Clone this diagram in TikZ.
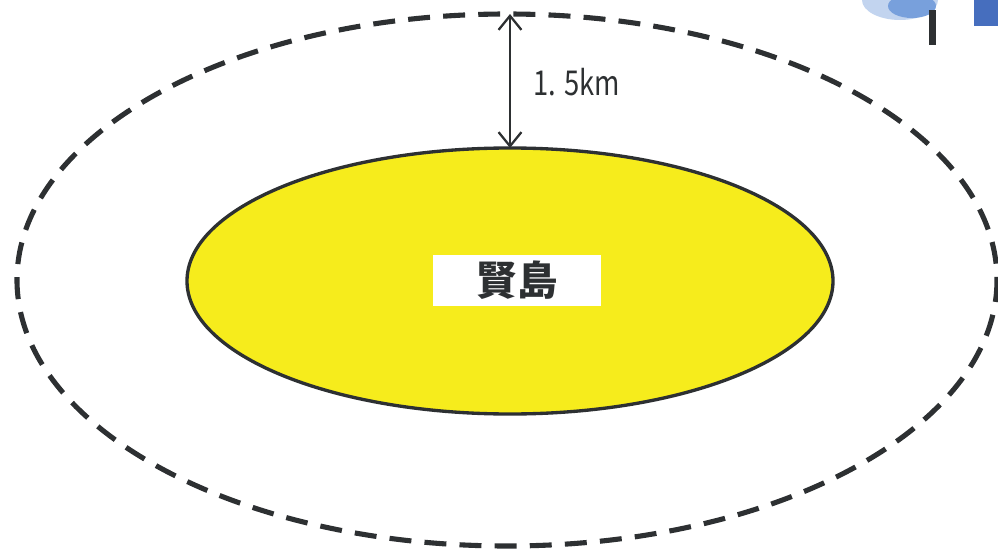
\documentclass[tikz,border=0pt]{standalone}
\usepackage{fontspec}
\newfontfamily\jpfont{Noto Sans CJK JP}
\usetikzlibrary{arrows.meta}
\definecolor{islandyellow}{RGB}{246,236,28}
\definecolor{inkgray}{RGB}{45,48,50}
\definecolor{signblue}{RGB}{120,160,220}
\definecolor{signdark}{RGB}{70,110,190}
\tikzset{
  zone/.style={draw=inkgray, line width=2.9pt, dash pattern=on 12.5pt off 7.5pt},
  island/.style={draw=inkgray, fill=islandyellow, line width=1.9pt},
  namebox/.style={fill=white, minimum width=168*0.02cm, minimum height=51*0.02cm, inner sep=0pt},
  dist/.style={draw=inkgray, line width=1.3pt, {Straight Barb[length=8pt,width=13pt]}-{Straight Barb[length=8pt,width=13pt]}}
}
\begin{document}
\begin{tikzpicture}[x=0.02cm,y=-0.02cm]
        \useasboundingbox (0,0) rectangle (998,551);
        % sign post at the corner
        \begin{scope}
                \clip (0,0) rectangle (998,551);
                \fill[signblue!45] (900,0) ellipse (38 and 20);
                \fill[signblue] (912,6) ellipse (24 and 12);
                \fill[inkgray] (929,10) rectangle (936,45);
                \fill[signdark] (974,-5) rectangle (1000,26);
        \end{scope}
        % 1.5km zone and the island
        \draw[zone] (507,280) ellipse (490 and 266);
        \draw[island] (510,281) ellipse (323 and 133);
        \node[namebox] (name) at (517,280) {\jpfont\bfseries\fontsize{23pt}{25pt}\selectfont\color{inkgray}賢島};
        % distance arrow
        \coordinate (zonetop) at (510,14);
        \coordinate (shore) at (510,148);
        \draw[dist] (zonetop) -- (shore);
        \node[anchor=west, inner sep=0pt, text=inkgray] (km) at (533,82) {\jpfont\fontsize{19.5pt}{21pt}\selectfont\addfontfeature{FakeStretch=0.8}1. 5km};
\end{tikzpicture}
\end{document}
